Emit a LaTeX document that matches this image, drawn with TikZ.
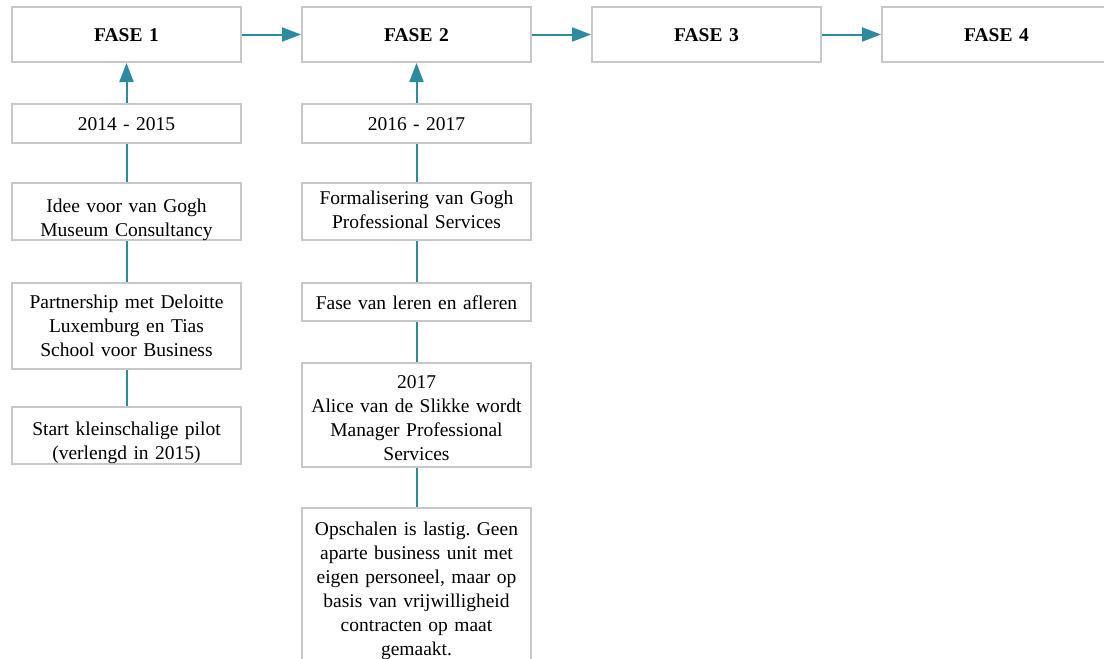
\documentclass[tikz,border=0pt]{standalone}
\usepackage{fontspec}
\setmainfont{Liberation Serif}
\usetikzlibrary{arrows.meta}
\frenchspacing
\definecolor{boxgray}{RGB}{200,200,200}
\definecolor{linkteal}{RGB}{46,138,158}
\tikzset{
  box/.style={draw=boxgray, line width=2pt, fill=white, minimum width=229pt, inner sep=0pt},
  txt/.style={inner sep=0pt, align=center, text width=225pt, font=\fontsize{19.5}{24}\selectfont},
  fasetxt/.style={txt, font=\fontsize{19.5}{24}\selectfont\bfseries},
  link/.style={draw=linkteal, line width=2pt},
  arr/.style={link, -{Triangle[length=19pt,width=14pt]}}
}
\begin{document}
\begin{tikzpicture}[x=1pt,y=-1pt]
\clip (0,0) rectangle (1104,659);
\fill[white] (0,0) rectangle (1104,659);
% top row
\node[box, minimum height=55pt] (f1) at (126.5,34.5) {};
\node[box, minimum height=55pt] (f2) at (416.5,34.5) {};
\node[box, minimum height=55pt] (f3) at (706.5,34.5) {};
\node[box, minimum height=55pt] (f4) at (996.5,34.5) {};
\node[fasetxt] (f1t) at (126.5,35.5) {FASE 1};
\node[fasetxt] (f2t) at (416.5,35.5) {FASE 2};
\node[fasetxt] (f3t) at (706.5,35.5) {FASE 3};
\node[fasetxt] (f4t) at (996.5,35.5) {FASE 4};
% column 1
\node[box, minimum height=39pt] (y1) at (126.5,123.5) {};
\node[txt] (y1t) at (126.5,124) {2014 - 2015};
\node[box, minimum height=57pt] (a1) at (126.5,211.5) {};
\node[txt] (a1t) at (126.5,220) {Idee voor van Gogh\\Museum Consultancy};
\node[box, minimum height=86pt] (a2) at (126.5,326) {};
\node[txt] (a2t) at (126.5,326) {Partnership met Deloitte\\Luxemburg en Tias\\School voor Business};
\node[box, minimum height=57pt] (a3) at (126.5,435.5) {};
\node[txt] (a3t) at (126.5,443) {Start kleinschalige pilot\\(verlengd in 2015)};
% column 2
\node[box, minimum height=39pt] (y2) at (416.5,123.5) {};
\node[txt] (y2t) at (416.5,124) {2016 - 2017};
\node[box, minimum height=57pt] (b1) at (416.5,211.5) {};
\node[txt] (b1t) at (416.5,210) {Formalisering van Gogh\\Professional Services};
\node[box, minimum height=38pt] (b2) at (416.5,302) {};
\node[txt] (b2t) at (416.5,303) {Fase van leren en afleren};
\node[box, minimum height=104pt] (b3) at (416.5,415) {};
\node[txt] (b3t) at (416.5,418) {2017\\Alice van de Slikke wordt\\Manager Professional\\Services};
\node[box, minimum height=160pt] (b4) at (416.5,588) {};
\node[txt] (b4t) at (416.5,591) {Opschalen is lastig. Geen\\aparte business unit met\\eigen personeel, maar op\\basis van vrijwilligheid\\contracten op maat\\gemaakt.};
% connectors
\draw[arr] (f1) -- (f2);
\draw[arr] (f2) -- (f3);
\draw[arr] (f3) -- (f4);
\draw[arr] (y1) -- (f1);
\draw[arr] (y2) -- (f2);
\draw[link] (y1) -- (a1);
\draw[link] (a1) -- (a2);
\draw[link] (a2) -- (a3);
\draw[link] (y2) -- (b1);
\draw[link] (b1) -- (b2);
\draw[link] (b2) -- (b3);
\draw[link] (b3) -- (b4);
\end{tikzpicture}
\end{document}
